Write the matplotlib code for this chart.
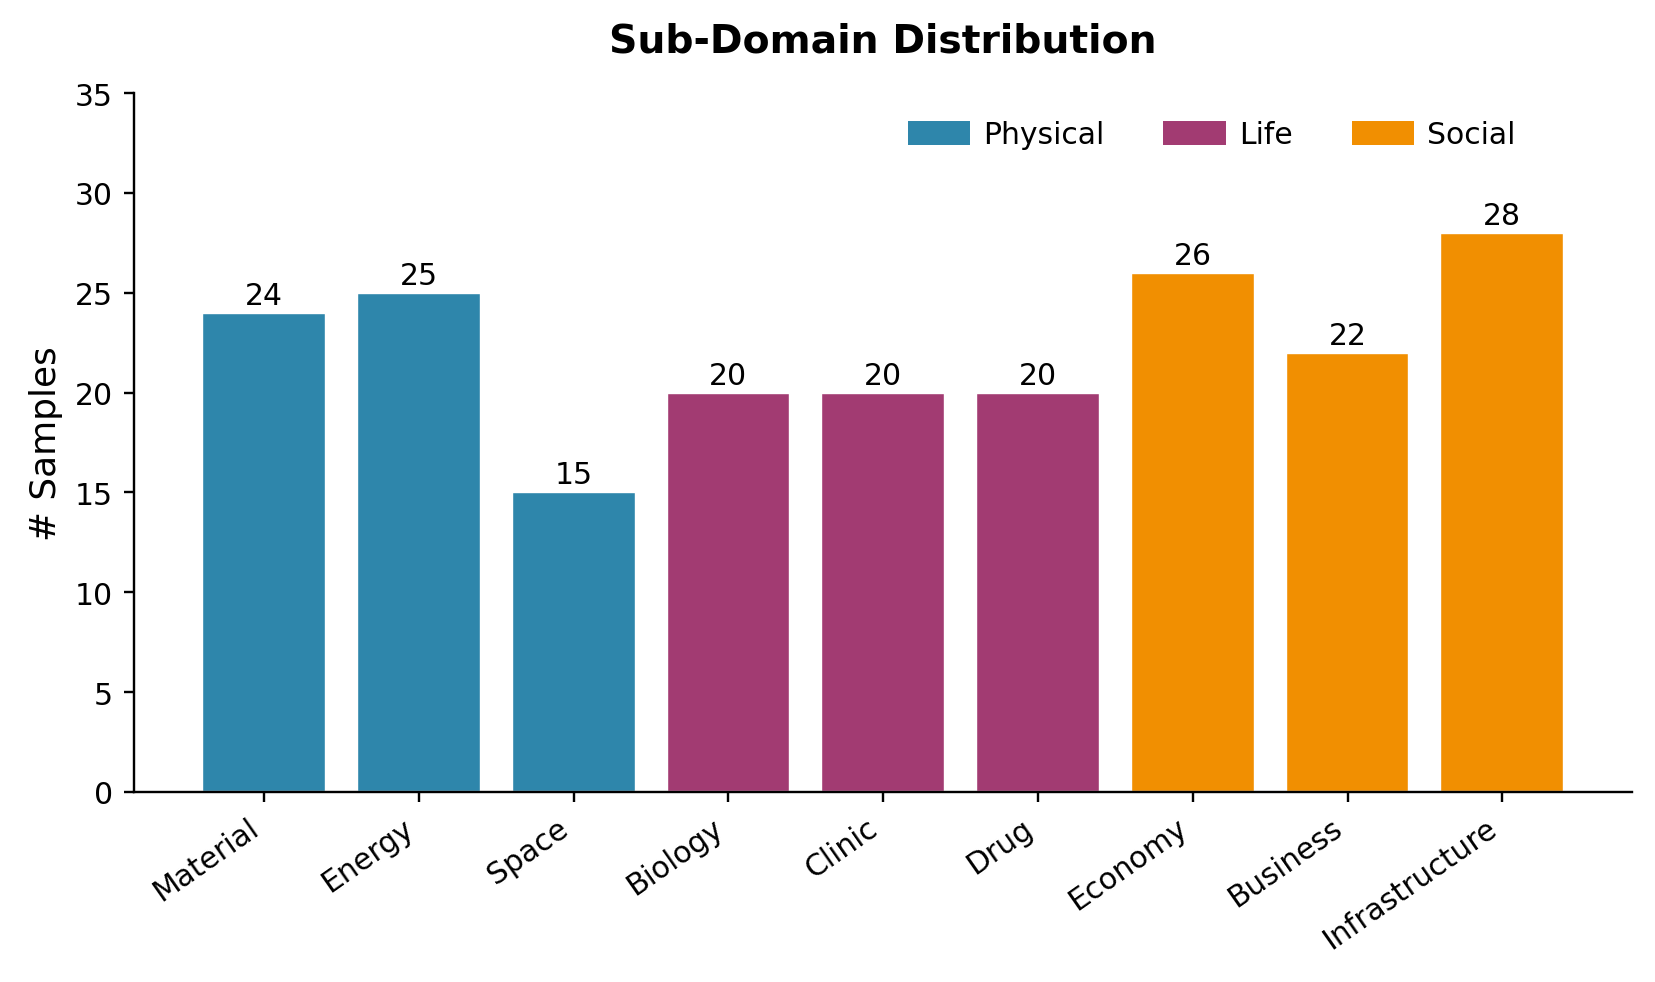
import numpy as np
import matplotlib.pyplot as plt
from matplotlib.patches import Patch

# Data
categories = ['Material', 'Energy', 'Space', 'Biology', 'Clinic', 'Drug',
              'Economy', 'Business', 'Infrastructure']
counts = [24, 25, 15, 20, 20, 20, 26, 22, 28]
groups = ['Physical', 'Physical', 'Physical', 'Life', 'Life', 'Life',
          'Social', 'Social', 'Social']
group_names = ['Physical', 'Life', 'Social']
group_colors = {'Physical': '#2E86AB', 'Life': '#A23B72', 'Social': '#F18F01'}

fig = plt.figure(figsize=(7.7, 4.572), dpi=215)
ax = fig.add_axes([0.081, 0.1933, 0.905, 0.711])

x = np.arange(len(categories))
colors = [group_colors[g] for g in groups]
bars = ax.bar(x, counts, width=0.8, color=colors, edgecolor='white', linewidth=0.8)

for b, v in zip(bars, counts):
    ax.text(b.get_x() + b.get_width() / 2, v + 0.15, str(v),
            ha='center', va='bottom', fontsize=10)

ax.set_xticks(x)
ax.set_xticklabels(categories, rotation=35, ha='right', fontsize=10)
ax.tick_params(axis='y', labelsize=10)
ax.set_ylim(0, 35)
ax.set_ylabel('# Samples', fontsize=12)
ax.set_title('Sub-Domain Distribution', fontsize=13.2, fontweight='bold', pad=14)

ax.spines['top'].set_visible(False)
ax.spines['right'].set_visible(False)

handles = [Patch(color=group_colors[g], label=g) for g in group_names]
ax.legend(handles=handles, loc='upper right', ncol=3, frameon=False,
          fontsize=10, handletextpad=0.5, bbox_to_anchor=(0.94, 1.0))

fig.savefig('out.png', dpi=215)
